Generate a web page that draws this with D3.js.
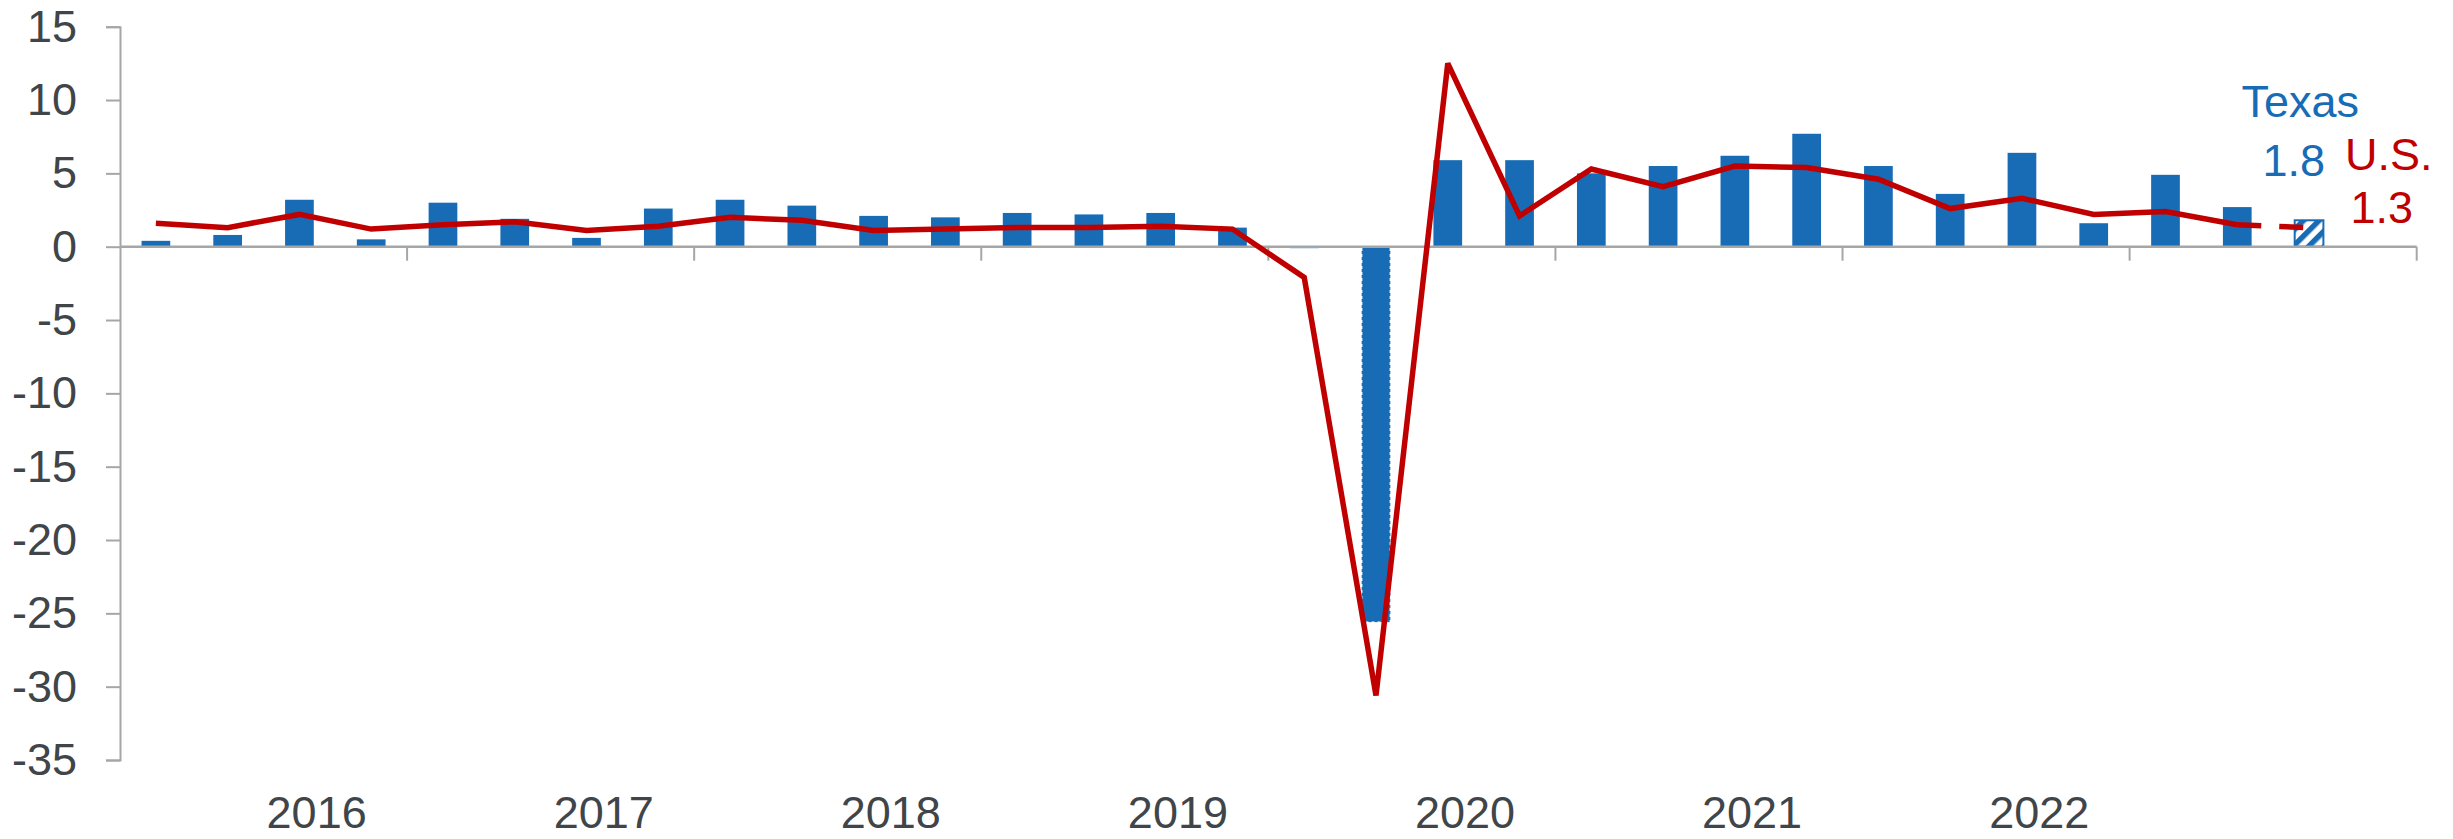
<!DOCTYPE html>
<html>
<head>
<meta charset="utf-8">
<script src="https://cdn.jsdelivr.net/npm/d3@7"></script>
<style>
  html, body { margin: 0; padding: 0; background: #fff; }
  svg { display: block; font-family: "Liberation Sans", Arial, sans-serif; }
</style>
</head>
<body>
<svg id="chart" width="2453" height="839"></svg>
<script>
// Quarterly growth, annualized percent: Texas (bars) vs. U.S. (line)
const years = [2016, 2017, 2018, 2019, 2020, 2021, 2022, 2023];
const yearLabels = ["2016", "2017", "2018", "2019", "2020", "2021", "2022"];
const quarters = years.flatMap(y => [1, 2, 3, 4].map(q => `${y}Q${q}`));

const texas = [
  0.4, 0.8, 3.2, 0.5,
  3.0, 1.9, 0.6, 2.6,
  3.2, 2.8, 2.1, 2.0,
  2.3, 2.2, 2.3, 1.3,
  -0.1, -25.6, 5.9, 5.9,
  5.0, 5.5, 6.2, 7.7,
  5.5, 3.6, 6.4, 1.6,
  4.9, 2.7, 1.8
];
const us = [
  1.6, 1.3, 2.2, 1.2,
  1.5, 1.7, 1.1, 1.4,
  2.0, 1.8, 1.1, 1.2,
  1.3, 1.3, 1.4, 1.2,
  -2.1, -30.6, 12.5, 2.1,
  5.3, 4.1, 5.5, 5.4,
  4.6, 2.6, 3.3, 2.2,
  2.4, 1.5, 1.3
];
const yTicks = [15, 10, 5, 0, -5, -10, -15, -20, -25, -30, -35];

const BLUE = "#186cb6";
const RED = "#c00000";
const AXIS = "#a6a6a6";
const TEXT = "#404549";
const FONT = 45;

const svg = d3.select("#chart");

const x = d3.scaleBand()
  .domain(quarters)
  .range([120, 2416.7])
  .paddingInner(0.6)
  .paddingOuter(0.3);

const y = d3.scaleLinear()
  .domain([-35, 15])
  .range([760, 26.7]);

const cx = i => x(quarters[i]) + x.bandwidth() / 2;
const halfGap = x.paddingInner() * x.step() / 2;

// hatch pattern for the latest (preliminary) Texas quarter
const defs = svg.append("defs");
const pat = defs.append("pattern")
  .attr("id", "hatch")
  .attr("patternUnits", "userSpaceOnUse")
  .attr("width", 11).attr("height", 11)
  .attr("patternTransform", "rotate(45)");
pat.append("rect").attr("width", 11).attr("height", 11).attr("fill", "#fff");
pat.append("rect").attr("width", 5.5).attr("height", 11).attr("fill", BLUE);

// y axis
const yAxis = svg.append("g")
  .attr("transform", `translate(${x.range()[0]},0)`)
  .call(d3.axisLeft(y).tickValues(yTicks).tickSize(14).tickPadding(29).tickFormat(d => String(d)));
yAxis.select(".domain").attr("stroke", AXIS).attr("stroke-width", 2);
yAxis.selectAll(".tick line").attr("stroke", AXIS).attr("stroke-width", 2);
yAxis.selectAll(".tick text")
  .attr("fill", TEXT)
  .attr("font-size", FONT)
  .attr("font-family", "Liberation Sans, Arial, sans-serif");

// Texas bars
const last = texas.length - 1;
svg.append("g").selectAll("rect")
  .data(texas)
  .join("rect")
  .attr("x", (d, i) => x(quarters[i]))
  .attr("width", x.bandwidth())
  .attr("y", d => y(Math.max(0, d)))
  .attr("height", d => Math.abs(y(d) - y(0)))
  .attr("fill", (d, i) => i === last ? "url(#hatch)" : BLUE)
  .attr("stroke", (d, i) => i === last ? BLUE : (d < -10 ? "#fff" : "none"))
  .attr("stroke-width", (d, i) => i === last ? 2 : 1.5)
  .attr("stroke-dasharray", (d, i) => (i !== last && d < -10) ? "3,3" : null);

// x axis line at zero with year boundary ticks
const xAxis = svg.append("g");
xAxis.append("line")
  .attr("x1", x.range()[0]).attr("x2", x.range()[1])
  .attr("y1", y(0)).attr("y2", y(0))
  .attr("stroke", AXIS).attr("stroke-width", 2.5);
const boundaries = years.slice(1).map(yr => x(`${yr}Q1`) - halfGap).concat([x.range()[1]]);
xAxis.selectAll("line.tick")
  .data(boundaries)
  .join("line")
  .attr("class", "tick")
  .attr("x1", d => d).attr("x2", d => d)
  .attr("y1", y(0)).attr("y2", y(0) + 14)
  .attr("stroke", AXIS).attr("stroke-width", 2);

// year labels
svg.append("g").selectAll("text")
  .data(yearLabels)
  .join("text")
  .attr("x", d => x(`${d}Q1`) - halfGap + x.step() * 2.74)
  .attr("y", 828)
  .attr("text-anchor", "middle")
  .attr("fill", TEXT)
  .attr("font-size", FONT)
  .text(d => d);

// U.S. line: solid through the prior quarter, dashed into the latest one
const line = d3.line()
  .x(d => cx(d.i))
  .y(d => y(d.v));
const pts = us.map((v, i) => ({ i, v }));
svg.append("path")
  .datum(pts.slice(0, us.length - 1))
  .attr("d", line)
  .attr("fill", "none")
  .attr("stroke", RED)
  .attr("stroke-width", 5.5)
  .attr("stroke-linejoin", "miter")
  .attr("stroke-miterlimit", 2);
svg.append("path")
  .datum(pts.slice(us.length - 2))
  .attr("d", line)
  .attr("fill", "none")
  .attr("stroke", RED)
  .attr("stroke-width", 5.5)
  .attr("stroke-dasharray", "24,18");

// end labels
const ex = cx(last);
const ann = svg.append("g").attr("font-size", FONT);
ann.append("text").attr("x", ex + 50).attr("y", 117).attr("text-anchor", "end")
  .attr("fill", BLUE).text("Texas");
ann.append("text").attr("x", ex + 16).attr("y", 176).attr("text-anchor", "end")
  .attr("fill", BLUE).text(texas[last].toFixed(1));
ann.append("text").attr("x", ex + 36).attr("y", 170).attr("text-anchor", "start")
  .attr("fill", RED).text("U.S.");
ann.append("text").attr("x", ex + 104).attr("y", 223).attr("text-anchor", "end")
  .attr("fill", RED).text(us[last].toFixed(1));
</script>
</body>
</html>
